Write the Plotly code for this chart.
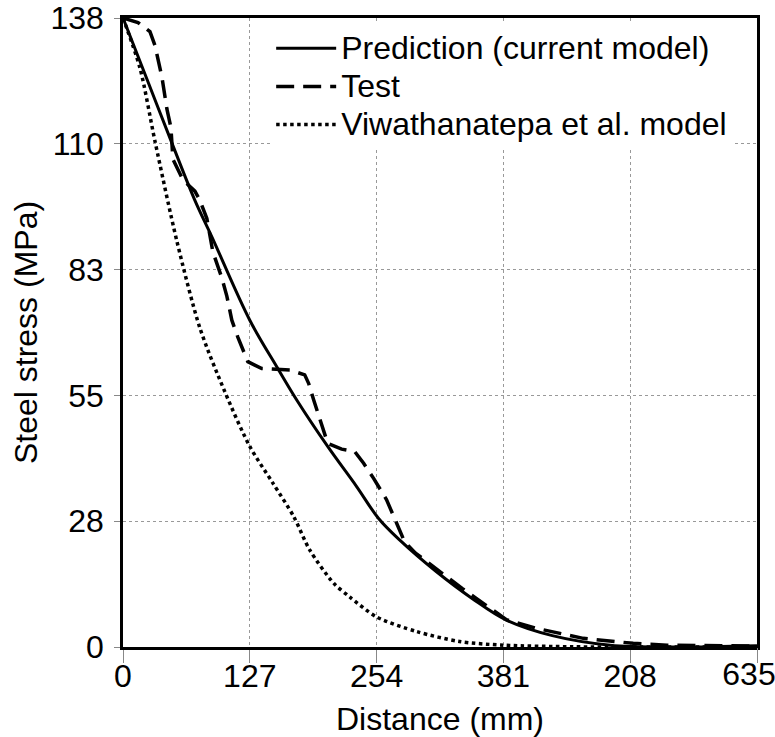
import plotly.graph_objects as go

# Prediction (current model)
pred_x = [0, 25, 50, 72, 89, 127, 154, 174, 205, 234, 256, 277, 314, 350, 384, 430, 488, 550, 635]
pred_y = [138, 124, 110, 98, 90, 71.7, 61.5, 54.2, 44, 35.2, 28.2, 23.5, 16.5, 10.6, 5.9, 2.5, 0.4, 0.0, 0.3]

# Test
test_x = [0, 15, 27, 32, 39, 44, 48, 50, 60, 72, 77, 84, 90, 99, 104, 109, 115, 125, 139, 167, 182, 186,
          191, 205, 219, 232, 241, 251, 264, 271, 282, 293, 311, 340, 384, 414, 461, 511, 545, 635]
test_y = [138, 137, 135, 132, 125, 118, 114, 107, 102.5, 100, 98, 94, 86.7, 81, 77, 71.7, 68, 62.6, 61.1, 60.8, 59.7, 57.8,
          54.2, 44.7, 43.4, 42.9, 40.3, 37, 32.3, 28.6, 23.1, 20.6, 17.6, 12.8, 6, 4.1, 1.9, 0.8, 0.4, 0.2]

# Viwathanatepa et al. model
viwa_x = [0, 17, 32, 54, 77, 102, 127, 150, 171, 187, 211, 227, 254, 294, 337, 381, 450, 520, 635]
viwa_y = [138, 127, 111, 89, 70, 56, 44, 36, 28.6, 21.3, 14, 11, 6.6, 3.4, 1.2, 0.4, 0.05, 0, 0]

series_names = ["Prediction (current model)", "Test", "Viwathanatepa et al. model"]

x_tickvals = [0, 127, 254, 381, 508, 635]
x_ticktext = ["0", "127", "254", "381", "208", "635"]
y_tickvals = [0, 27.6, 55.2, 82.8, 110.4, 138]
y_ticktext = ["0", "28", "55", "83", "110", "138"]

FONT = "Liberation Sans, Arial, sans-serif"
FS = 32
LEG_FS = 27  # controls legend row spacing; text itself shown at FS


def leg(name):
    return f"<span style='font-size:{FS}px'>{name}</span>"


fig = go.Figure()
fig.add_trace(go.Scatter(x=pred_x, y=pred_y, mode="lines", name=leg(series_names[0]),
                         line=dict(color="black", width=3, shape="spline", smoothing=1.0)))
fig.add_trace(go.Scatter(x=test_x, y=test_y, mode="lines", name=leg(series_names[1]),
                         line=dict(color="black", width=3.5, dash="18px,9px")))
fig.add_trace(go.Scatter(x=viwa_x, y=viwa_y, mode="lines", name=leg(series_names[2]),
                         line=dict(color="black", width=3.5, dash="dot", shape="spline", smoothing=0.8)))
# empty trace so the overlay axis (carrying the last x label) is drawn
fig.add_trace(go.Scatter(x=[], y=[], xaxis="x2", yaxis="y", mode="lines",
                         showlegend=False, hoverinfo="skip"))

x_range = [0, 635]
# main axis shows all ticks but the last label, which is drawn (kept inside the page) by an overlay axis
main_ticktext = x_ticktext[:-1] + [""]

fig.update_layout(
    width=775, height=737,
    margin=dict(l=123, r=18, t=18, b=90, autoexpand=False),
    paper_bgcolor="white", plot_bgcolor="white",
    font=dict(family=FONT, size=FS, color="black"),
    showlegend=True,
    legend=dict(x=0.2337, y=0.99, xanchor="left", yanchor="top", bgcolor="white",
                font=dict(size=LEG_FS), tracegroupgap=0, itemwidth=60),
    xaxis2=dict(overlaying="x", anchor="y", side="bottom", range=x_range,
                tickvals=x_tickvals[-1:], ticktext=x_ticktext[-1:],
                tickfont=dict(size=FS), ticklabelshift=-8, ticklabelstandoff=-14,
                ticks="outside", ticklen=13, tickcolor="#888888", tickwidth=1,
                showgrid=False, showline=False, zeroline=False, automargin=False,
                ticklabeloverflow="allow"),
)
fig.layout.xaxis.update(range=x_range, tickvals=x_tickvals, ticktext=main_ticktext,
                        title=dict(text="Distance (mm)", standoff=22, font=dict(size=FS)),
                        tickfont=dict(size=FS), automargin=False,
                        ticklabeloverflow="allow", ticklabelstandoff=-14,
                        showgrid=True, gridcolor="#999999", griddash="dot", gridwidth=1,
                        showline=True, linecolor="black", linewidth=2.5, mirror=True,
                        ticks="outside", ticklen=13, tickcolor="#888888", tickwidth=1,
                        zeroline=False)
fig.update_yaxes(range=[0, 138], tickvals=y_tickvals, ticktext=y_ticktext,
                 title=dict(text="Steel stress (MPa)", standoff=4, font=dict(size=FS)),
                 tickfont=dict(size=FS), automargin=False,
                 ticklabeloverflow="allow", ticklabelstandoff=4,
                 showgrid=True, gridcolor="#999999", griddash="dot", gridwidth=1,
                 showline=True, linecolor="black", linewidth=2.5, mirror=True,
                 ticks="outside", ticklen=6, tickcolor="#888888", tickwidth=1,
                 zeroline=False)

fig.write_html("out.html", config={"displayModeBar": False},
               post_script="document.body.style.margin='0px';")
